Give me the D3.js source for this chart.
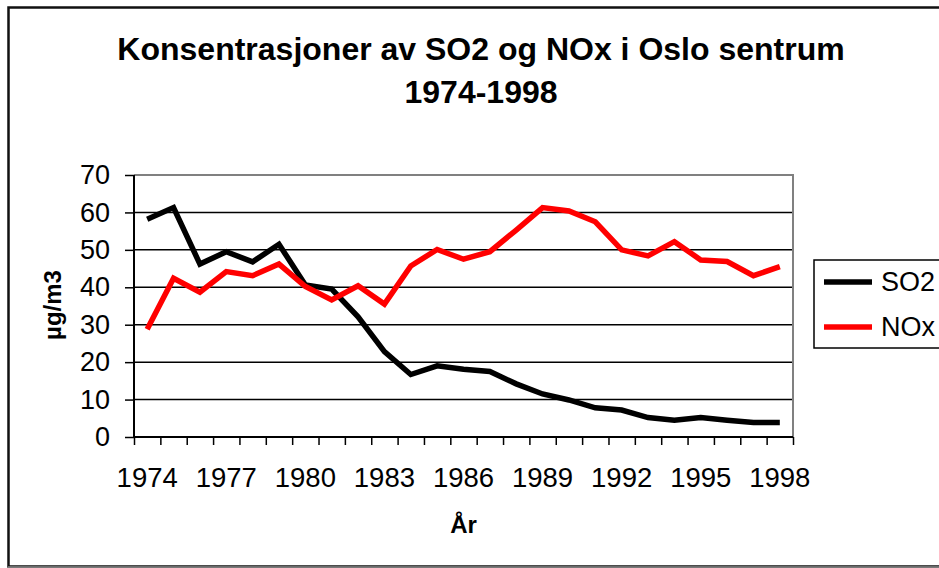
<!DOCTYPE html>
<html>
<head>
<meta charset="utf-8">
<script src="https://cdn.jsdelivr.net/npm/d3@7"></script>
<style>
  body { margin: 0; background: #fff; }
  text { font-family: "Liberation Sans", Arial, sans-serif; fill: #000; }
  .axis path { display: none; }
</style>
</head>
<body>
<svg class="canvas"></svg>
<script>
// aar 1974-1998
var years = [1974, 1975, 1976, 1977, 1978, 1979, 1980, 1981, 1982, 1983, 1984, 1985, 1986,
             1987, 1988, 1989, 1990, 1991, 1992, 1993, 1994, 1995, 1996, 1997, 1998];
var so2 = [58.2, 61.3, 46.2, 49.5, 46.8, 51.5, 40.6, 39.5, 32.1, 22.8, 16.7, 19.0, 18.1,
           17.5, 14.2, 11.5, 9.9, 7.8, 7.2, 5.2, 4.5, 5.2, 4.5, 3.9, 3.9];
var nox = [28.8, 42.4, 38.7, 44.2, 43.1, 46.2, 40.2, 36.6, 40.4, 35.5, 45.7, 50.1, 47.5,
           49.5, 55.3, 61.3, 60.4, 57.5, 50.0, 48.4, 52.2, 47.3, 46.9, 43.1, 45.5];
var yearLabels = [1974, 1977, 1980, 1983, 1986, 1989, 1992, 1995, 1998];
var yTicks = [0, 10, 20, 30, 40, 50, 60, 70];
var seriesNames = ["SO2", "NOx"];
var seriesColors = ["#000000", "#ff0000"];

function display() {
  var width = 939;
  var height = 568;
  var left = 134, right = 793, top = 175, bottom = 437;

  var svg = d3.select(".canvas")
    .attr("width", width)
    .attr("height", height);

  // ramme rundt hele diagrammet
  svg.append("rect")
    .attr("x", 8.5).attr("y", 7.5)
    .attr("width", 940).attr("height", 559)
    .attr("fill", "none")
    .attr("stroke", "#111")
    .attr("stroke-width", 2.5);
  svg.append("line")
    .attr("x1", 8).attr("x2", 939).attr("y1", 567).attr("y2", 567)
    .attr("stroke", "#888").attr("stroke-width", 1.5);

  var x = d3.scaleBand().domain(years).range([left, right]).padding(0);
  var xIdx = d3.scaleLinear().domain([0, years.length]).range([left, right]);
  var y = d3.scaleLinear().domain([0, 70]).range([bottom, top]);

  function cx(i) { return x(years[i]) + x.bandwidth() / 2; }

  // rutenett
  svg.append("g")
    .selectAll("line")
    .data(yTicks.slice(1, -1))
    .enter()
    .append("line")
    .attr("x1", left).attr("x2", right)
    .attr("y1", function(d) { return y(d); })
    .attr("y2", function(d) { return y(d); })
    .attr("stroke", "#000")
    .attr("stroke-width", 1.5);

  // grå ramme topp og høyre
  svg.append("path")
    .attr("d", "M" + left + "," + y(70) + "H" + right + "V" + y(0))
    .attr("fill", "none")
    .attr("stroke", "#808080")
    .attr("stroke-width", 2);

  // y-akse
  var yAxis = d3.axisLeft(y).tickValues(yTicks).tickSize(9).tickPadding(15);
  var yg = svg.append("g")
    .attr("class", "axis")
    .attr("transform", "translate(" + left + ",0)")
    .call(yAxis);
  yg.selectAll("line").attr("stroke", "#000").attr("stroke-width", 1.5);
  yg.selectAll("text").style("font-size", "27px");
  svg.append("line")
    .attr("x1", left).attr("x2", left).attr("y1", y(70)).attr("y2", y(0))
    .attr("stroke", "#000").attr("stroke-width", 2);

  // x-akse: streker mellom kategoriene
  var tickAxis = d3.axisBottom(xIdx).tickValues(d3.range(years.length + 1)).tickSize(8).tickFormat("");
  var tg = svg.append("g")
    .attr("class", "axis")
    .attr("transform", "translate(0," + bottom + ")")
    .call(tickAxis);
  tg.selectAll("line").attr("stroke", "#000").attr("stroke-width", 1.5);
  svg.append("line")
    .attr("x1", left).attr("x2", right).attr("y1", bottom).attr("y2", bottom)
    .attr("stroke", "#000").attr("stroke-width", 2);

  var xAxis = d3.axisBottom(x).tickValues(yearLabels).tickSize(0).tickPadding(30);
  var xg = svg.append("g")
    .attr("class", "axis")
    .attr("transform", "translate(0," + bottom + ")")
    .call(xAxis);
  xg.selectAll("text").style("font-size", "27.5px");

  // linjer
  var series = [so2, nox];
  var line = d3.line()
    .x(function(d, i) { return cx(i); })
    .y(function(d) { return y(d); });

  svg.selectAll(".serie")
    .data(series)
    .enter()
    .append("path")
    .attr("class", "serie")
    .attr("d", function(d) { return line(d); })
    .attr("fill", "none")
    .attr("stroke", function(d, i) { return seriesColors[i]; })
    .attr("stroke-width", 5.5)
    .attr("stroke-linejoin", "miter");

  // titler
  svg.append("text")
    .attr("x", 481).attr("y", 60)
    .attr("text-anchor", "middle")
    .style("font-size", "32px").style("font-weight", "bold")
    .text("Konsentrasjoner av SO2 og NOx i Oslo sentrum");
  svg.append("text")
    .attr("x", 481).attr("y", 103)
    .attr("text-anchor", "middle")
    .style("font-size", "32px").style("font-weight", "bold")
    .text("1974-1998");

  svg.append("text")
    .attr("x", (left + right) / 2).attr("y", 533)
    .attr("text-anchor", "middle")
    .style("font-size", "24px").style("font-weight", "bold")
    .text("År");

  svg.append("text")
    .attr("transform", "translate(61,305) rotate(-90)")
    .attr("text-anchor", "middle")
    .style("font-size", "24px").style("font-weight", "bold")
    .text("µg/m3");

  // forklaring
  var legend = svg.append("g");
  legend.append("rect")
    .attr("x", 814).attr("y", 260)
    .attr("width", 140).attr("height", 88)
    .attr("fill", "#fff")
    .attr("stroke", "#000")
    .attr("stroke-width", 1.5);

  var items = legend.selectAll(".item")
    .data(seriesNames)
    .enter()
    .append("g")
    .attr("class", "item")
    .attr("transform", function(d, i) { return "translate(0," + (282 + i * 45) + ")"; });
  items.append("line")
    .attr("x1", 824).attr("x2", 872)
    .attr("stroke", function(d, i) { return seriesColors[i]; })
    .attr("stroke-width", 5.5);
  items.append("text")
    .attr("x", 881).attr("dy", "0.35em")
    .style("font-size", "27px")
    .text(function(d) { return d; });
}

display();
</script>
</body>
</html>
